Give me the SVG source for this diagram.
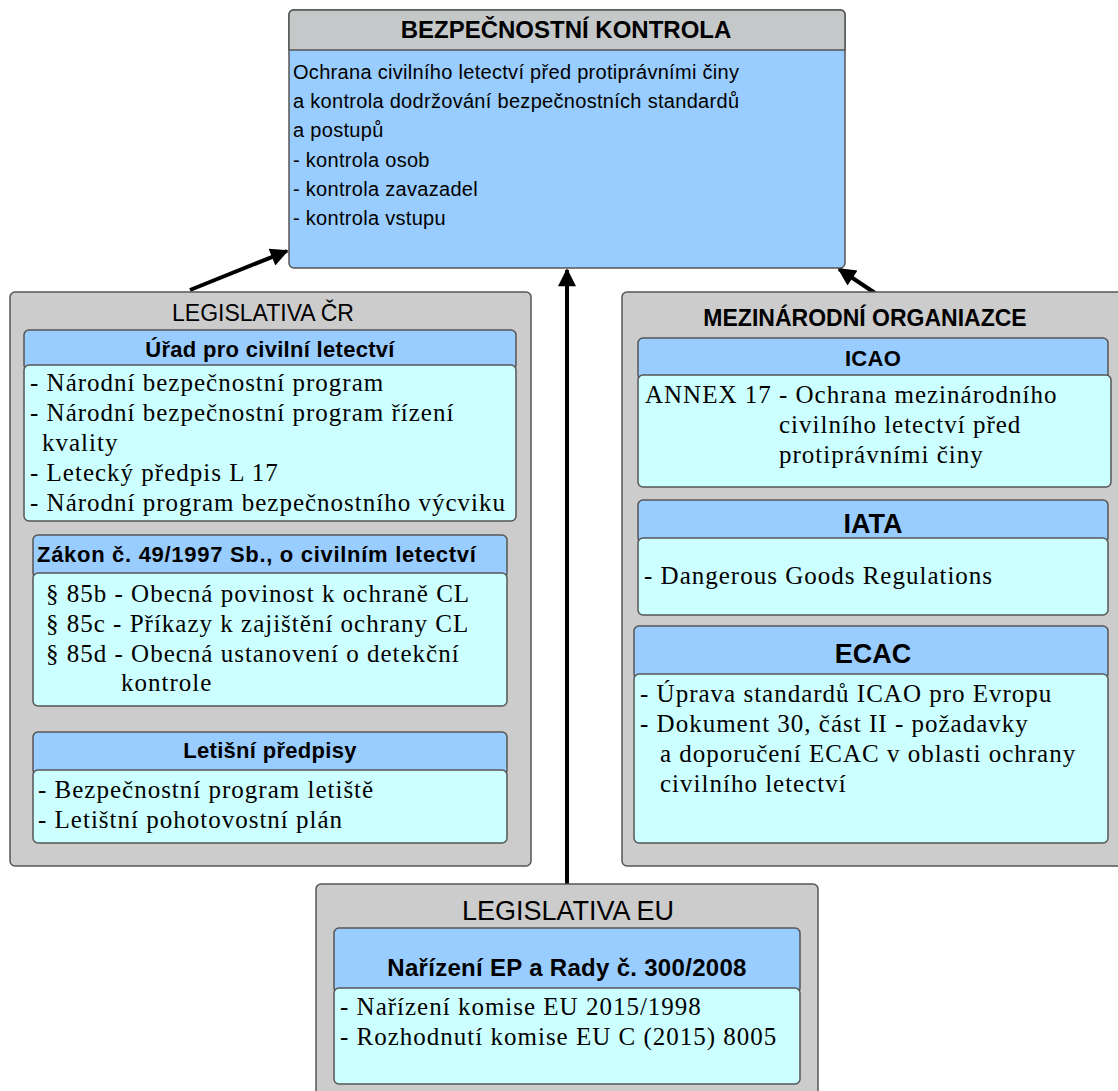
<svg xmlns="http://www.w3.org/2000/svg" width="1118" height="1091" viewBox="0 0 1118 1091">
<style>
.cont{fill:#cccccc;stroke:#555555;stroke-width:1.5}
.hdr{fill:#99ccff;stroke:#555555;stroke-width:1.5}
.bdy{fill:#ccffff;stroke:#555555;stroke-width:1.5}
.ttl{font-family:"Liberation Sans",Arial,sans-serif;font-size:23px;fill:#000}
.b{font-weight:bold}
.hd{font-family:"Liberation Sans",Arial,sans-serif;font-size:22px;font-weight:bold;fill:#000;letter-spacing:0.3px}
.big{font-family:"Liberation Sans",Arial,sans-serif;font-size:27px;font-weight:bold;fill:#000}
.sans{font-family:"Liberation Sans",Arial,sans-serif;font-size:20px;fill:#000;letter-spacing:0.3px}
.ser{font-family:"Liberation Serif","Times New Roman",serif;font-size:25px;fill:#000;letter-spacing:1px}
.mid{text-anchor:middle}
.conn{stroke:#000;stroke-width:4;fill:none;marker-end:url(#ah)}
</style>
<defs>
<marker id="ah" viewBox="0 0 10 10" refX="9" refY="5" markerWidth="5.5" markerHeight="4.5" orient="auto" markerUnits="strokeWidth">
<path d="M0,0 L10,5 L0,10 z" fill="#000"/>
</marker>
</defs>
<g id="connectors">
<line class="conn" x1="190" y1="290" x2="287" y2="251"/>
<line class="conn" x1="567" y1="885" x2="567" y2="270"/>
<line class="conn" x1="875" y1="293" x2="839" y2="269"/>
</g>
<g id="bezpecnostni-kontrola">
<rect x="289" y="10" width="556" height="258" rx="5" fill="#99ccff" stroke="#555555" stroke-width="1.5"/>
<path d="M289,50 V15 Q289,10 294,10 H840 Q845,10 845,15 V50 Z" fill="#c5c8c8" stroke="#555555" stroke-width="1.5"/>
<text class="ttl b mid" x="566" y="38" style="font-size:24px">BEZPEČNOSTNÍ KONTROLA</text>
<text class="sans" x="293" y="79">Ochrana civilního letectví před protiprávními činy</text>
<text class="sans" x="293" y="108">a kontrola dodržování bezpečnostních standardů</text>
<text class="sans" x="293" y="137">a postupů</text>
<text class="sans" x="293" y="167">- kontrola osob</text>
<text class="sans" x="293" y="196">- kontrola zavazadel</text>
<text class="sans" x="293" y="225">- kontrola vstupu</text>
</g>
<g id="legislativa-cr">
<rect class="cont" x="10" y="292" width="521" height="574" rx="5"/>
<text class="ttl mid" x="263" y="321">LEGISLATIVA ČR</text>
</g>
<g id="urad-pro-civilni-letectvi">
<rect class="hdr" x="24" y="330" width="492" height="40" rx="5"/>
<rect class="bdy" x="24" y="365" width="492" height="156" rx="5"/>
<text class="hd mid" x="270" y="357">Úřad pro civilní letectví</text>
<text class="ser" x="30" y="391">- Národní bezpečnostní program</text>
<text class="ser" x="30" y="421">- Národní bezpečnostní program řízení</text>
<text class="ser" x="42" y="451">kvality</text>
<text class="ser" x="30" y="481">- Letecký předpis L 17</text>
<text class="ser" x="30" y="511">- Národní program bezpečnostního výcviku</text>
</g>
<g id="zakon-49-1997">
<rect class="hdr" x="33" y="535" width="474" height="43" rx="5"/>
<rect class="bdy" x="33" y="573" width="474" height="133" rx="5"/>
<text class="hd" x="37" y="562" style="letter-spacing:0.7px">Zákon č. 49/1997 Sb., o civilním letectví</text>
<text class="ser" x="46" y="602">§ 85b - Obecná povinost k ochraně CL</text>
<text class="ser" x="46" y="632">§ 85c - Příkazy k zajištění ochrany CL</text>
<text class="ser" x="46" y="662">§ 85d - Obecná ustanovení o detekční</text>
<text class="ser" x="121" y="691">kontrole</text>
</g>
<g id="letisni-predpisy">
<rect class="hdr" x="33" y="732" width="474" height="43" rx="5"/>
<rect class="bdy" x="33" y="770" width="474" height="73" rx="5"/>
<text class="hd mid" x="270" y="758">Letišní předpisy</text>
<text class="ser" x="38" y="798">- Bezpečnostní program letiště</text>
<text class="ser" x="38" y="828">- Letištní pohotovostní plán</text>
</g>
<g id="mezinarodni-organizace">
<rect class="cont" x="622" y="292" width="510" height="574" rx="5"/>
<text class="ttl b mid" x="865" y="326">MEZINÁRODNÍ ORGANIAZCE</text>
</g>
<g id="icao">
<rect class="hdr" x="638" y="338" width="470" height="42" rx="5"/>
<rect class="bdy" x="638" y="375" width="473" height="112" rx="5"/>
<text class="hd mid" x="873" y="366">ICAO</text>
<text class="ser" x="645" y="403">ANNEX 17 - Ochrana mezinárodního</text>
<text class="ser" x="779" y="433">civilního letectví před</text>
<text class="ser" x="779" y="463">protiprávními činy</text>
</g>
<g id="iata">
<rect class="hdr" x="638" y="500" width="470" height="43" rx="5"/>
<rect class="bdy" x="638" y="538" width="470" height="77" rx="5"/>
<text class="big mid" x="873" y="533">IATA</text>
<text class="ser" x="644" y="584">- Dangerous Goods Regulations</text>
</g>
<g id="ecac">
<rect class="hdr" x="634" y="626" width="474" height="53" rx="5"/>
<rect class="bdy" x="634" y="674" width="474" height="169" rx="5"/>
<text class="big mid" x="873" y="663">ECAC</text>
<text class="ser" x="640" y="702">- Úprava standardů ICAO pro Evropu</text>
<text class="ser" x="640" y="732">- Dokument 30, část II - požadavky</text>
<text class="ser" x="660" y="762">a doporučení ECAC v oblasti ochrany</text>
<text class="ser" x="660" y="792">civilního letectví</text>
</g>
<g id="legislativa-eu">
<rect class="cont" x="316" y="884" width="502" height="220" rx="5"/>
<text class="ttl mid" x="568" y="920" style="font-size:27px">LEGISLATIVA EU</text>
</g>
<g id="narizeni-300-2008">
<rect class="hdr" x="334" y="928" width="466" height="65" rx="5"/>
<rect class="bdy" x="334" y="988" width="466" height="96" rx="5"/>
<text class="hd mid" x="567" y="976" style="font-size:24px">Nařízení EP a Rady č. 300/2008</text>
<text class="ser" x="340" y="1015">- Nařízení komise EU 2015/1998</text>
<text class="ser" x="340" y="1045">- Rozhodnutí komise EU C (2015) 8005</text>
</g>
</svg>
